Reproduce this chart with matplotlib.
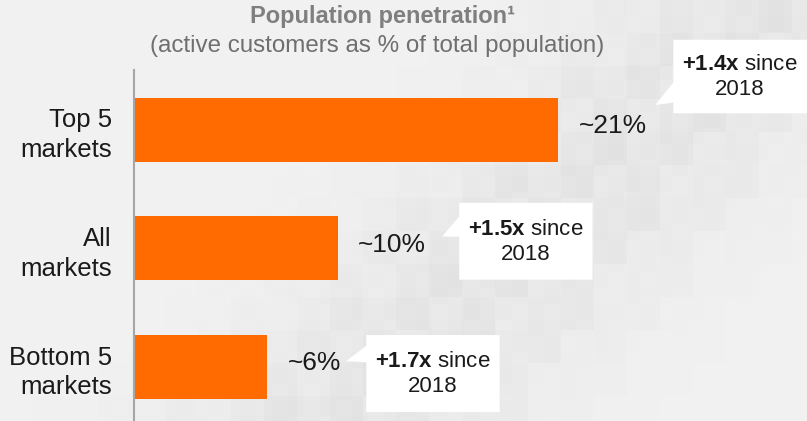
import numpy as np
import matplotlib.pyplot as plt
from matplotlib.patches import Polygon

plt.rcParams['font.family'] = ['Liberation Sans', 'DejaVu Sans']
plt.rcParams['mathtext.fontset'] = 'custom'
plt.rcParams['mathtext.rm'] = 'Liberation Sans'
plt.rcParams['mathtext.bf'] = 'Liberation Sans:bold'

# data
categories = ["Top 5\nmarkets", "All\nmarkets", "Bottom 5\nmarkets"]
penetration = [21.0, 10.1, 6.6]
value_labels = ["~21%", "~10%", "~6%"]
growth = ["+1.4x", "+1.5x", "+1.7x"]
since_year = "2018"

orange = "#ff6b00"
bg = "#f2f2f2"

fig = plt.figure(figsize=(8.07, 4.21), dpi=100)
fig.patch.set_facecolor(bg)

# decorative blocky background band (top right down to lower middle)
W, H = 807, 421
img = np.full((H, W, 3), 0xf2 / 255.0)
for cell, amp in [(33, 0.045), (16, 0.02)]:
    for i in range(0, H, cell):
        for j in range(0, W, cell):
            cx, cy = j + cell / 2, i + cell / 2
            d = ((cx - 780) * 421 + (cy - 0) * 440) / np.hypot(421, 440)
            t = np.exp(-(d / 130.0) ** 2)
            pat = ((i // cell) * 37 + (j // cell) * 17) % 7 / 6.0
            img[i:i + cell, j:j + cell, :] -= t * amp * (0.4 + 0.6 * pat)
bgax = fig.add_axes([0, 0, 1, 1], zorder=-1)
bgax.imshow(img, aspect='auto', interpolation='nearest')
bgax.axis('off')

ax = fig.add_axes([134 / 807, 0, 673 / 807, 351 / 421])
ax.set_facecolor('none')
y = np.arange(len(categories))
ax.barh(y, penetration, height=0.54, color=orange, zorder=2)
ax.set_xlim(0, 673 / 20.2)
ax.set_ylim(2.455, -0.505)

for s in ['top', 'right', 'bottom']:
    ax.spines[s].set_visible(False)
ax.spines['left'].set_color('#a6a6a6')
ax.spines['left'].set_linewidth(1.5)
ax.set_xticks([])
ax.set_yticks(y)
ax.set_yticklabels(categories, fontsize=18.5, color='#1a1a1a', ha='right',
                   multialignment='right', linespacing=1.3)
ax.tick_params(axis='y', length=0, pad=16)

for yi, v, lab in zip(y, penetration, value_labels):
    ax.text(v + 1.0, yi - 0.03, lab, fontsize=19, color='#1a1a1a', va='center', ha='left')

# callouts: (box left, box right, box top, box bottom, tip x, tip y, wedge top, wedge bottom) in data units
callouts = [
    (26.7, 33.4, -0.76, -0.14, 25.8, -0.21, -0.40, -0.23),
    (16.1, 22.7, 0.615, 1.263, 15.25, 0.90, 0.73, 0.90),
    (11.5, 18.1, 1.73, 2.38, 10.5, 1.95, 1.82, 1.96),
]
for (x0, x1, yt, yb, tx, ty, wt, wb), g in zip(callouts, growth):
    box = Polygon([(x0, yt), (x1, yt), (x1, yb), (x0, yb), (x0, wb), (tx, ty), (x0, wt)],
                  closed=True, facecolor='white', edgecolor='none', zorder=3, clip_on=False)
    ax.add_patch(box)
    xc = (x0 + min(x1, 33.3)) / 2
    ym = (yt + yb) / 2
    ax.text(xc, ym - 0.10, r"$\mathbf{" + g + "}$ since", fontsize=16, color='#1a1a1a',
            ha='center', va='center', zorder=4, clip_on=False)
    ax.text(xc, ym + 0.11, since_year, fontsize=16, color='#1a1a1a',
            ha='center', va='center', zorder=4, clip_on=False)

fig.text(383 / 807, 1 - 17 / 421, "Population penetration¹", fontsize=17, fontweight='bold',
         color='#7f7f7f', ha='center', va='center')
fig.text(377 / 807, 1 - 46 / 421, "(active customers as % of total population)", fontsize=17.4,
         color='#6f6f6f', ha='center', va='center')

fig.savefig("out.png", dpi=100, facecolor=bg)
